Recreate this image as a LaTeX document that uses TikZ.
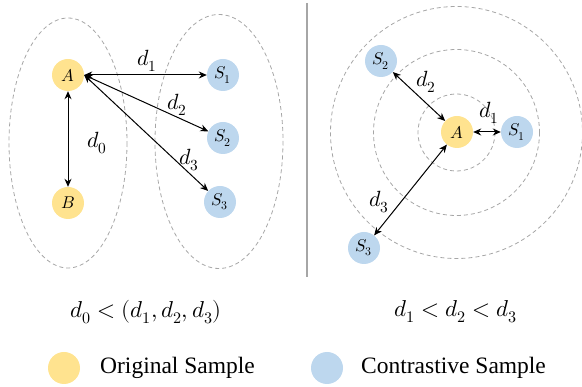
\documentclass[tikz,border=0pt]{standalone}
\usepackage{fontspec}
\usepackage{unicode-math}
\setmainfont{Liberation Serif}
\setmathfont{Latin Modern Math}
\usetikzlibrary{arrows.meta}
\definecolor{ylw}{HTML}{FFE38F}
\definecolor{blu}{HTML}{BDD7EE}
\definecolor{dgray}{HTML}{A6A6A6}
\tikzset{
  orig/.style={circle,fill=ylw,minimum size=32pt,inner sep=0pt,font=\fontsize{17}{17}\selectfont},
  contr/.style={circle,fill=blu,minimum size=32pt,inner sep=0pt,font=\fontsize{17}{17}\selectfont},
  dist/.style={{Stealth[length=8pt,width=7pt]}-{Stealth[length=8pt,width=7pt]},line width=1pt},
  dlabel/.style={font=\fontsize{22}{22}\selectfont},
  ring/.style={draw=dgray,dash pattern=on 4pt off 3pt,line width=0.8pt},
  formula/.style={font=\fontsize{23}{23}\selectfont},
  legend/.style={font=\fontsize{23.5}{23.5}\selectfont,anchor=west,inner sep=0pt}
}
\begin{document}
\begin{tikzpicture}[x=1pt,y=-1pt]
\useasboundingbox (0,0) rectangle (582,387);
% left panel ellipses
\draw[ring] (68,143) ellipse [x radius=59,y radius=125];
\draw[ring] (219,141.5) ellipse [x radius=64,y radius=127];
\node[orig] (A) at (68,75) {$A$};
\node[orig] (B) at (68,203) {$B$};
\node[contr] (S1) at (223,75) {$S_1$};
\node[contr] (S2) at (223,138) {$S_2$};
\node[contr] (S3) at (220,202) {$S_3$};
\draw[dist] (A) -- (S1);
\draw[dist] (A.east) -- (S2);
\draw[dist] (A.east) -- (S3);
\draw[dist] (A) -- (B);
\node[dlabel] (l1) at (147,61) {$d_1$};
\node[dlabel] (l2) at (177,105) {$d_2$};
\node[dlabel] (l3) at (189,160) {$d_3$};
\node[dlabel] (l0) at (97,143) {$d_0$};
% divider
\draw[dgray,line width=2.2pt] (307,3) -- (307,277);
% right panel rings
\coordinate (C) at (456.5,132.5);
\draw[ring] (C) circle [radius=38.5];
\draw[ring] (C) circle [radius=83];
\draw[ring] (C) circle [radius=126];
\node[orig] (RA) at (457,132) {$A$};
\node[contr] (R1) at (517,132) {$S_1$};
\node[contr] (R2) at (381,61) {$S_2$};
\node[contr] (R3) at (364,248) {$S_3$};
\draw[dist] (RA) -- (R1);
\draw[dist] (RA) -- (R2);
\draw[dist] (RA) -- (R3);
\node[dlabel] (m1) at (489,113) {$d_1$};
\node[dlabel] (m2) at (426,82) {$d_2$};
\node[dlabel] (m3) at (379,202) {$d_3$};
% formulas
\node[formula] (f1) at (146,312) {$d_0<(d_1,d_2,d_3)$};
\node[formula] (f2) at (456,312) {$d_1<d_2<d_3$};
% legend
\node[orig] (k1) at (64,368) {};
\node[legend] (t1) at (100,368) {Original Sample};
\node[contr] (k2) at (327,368) {};
\node[legend] (t2) at (361,368) {Contrastive Sample};
\end{tikzpicture}
\end{document}
